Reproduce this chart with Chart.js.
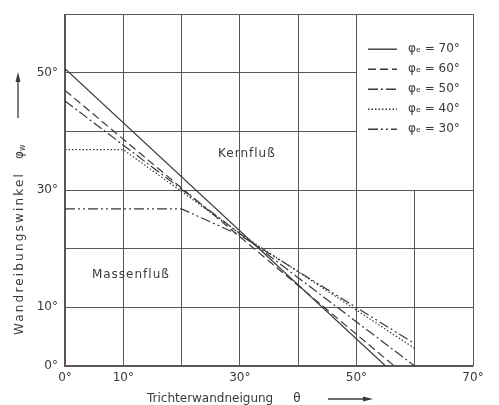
<!DOCTYPE html>
<html>
<head>
<meta charset="utf-8">
<script src="https://cdn.jsdelivr.net/npm/chart.js@4/dist/chart.umd.min.js"></script>
<style>
  html, body { margin: 0; padding: 0; background: #fff; }
  #wrap { width: 499px; height: 405px; }
</style>
</head>
<body>
<div id="wrap"><canvas id="chart"></canvas></div>
<script>
// phi_e values of the five curves
const phiE = [70, 60, 50, 40, 30];
// hopper wall angle theta (x) and wall friction angle phi_w (y) for each curve
const thetaVals = [
    [0, 55],
    [0, 56.5],
    [0, 60],
    [0, 10, 30, 60],
    [0, 20, 30, 60]
];
const phiWVals = [
    [50.7, 0],
    [47, 0],
    [45.2, 0],
    [36.9, 36.9, 22.6, 3],
    [26.8, 26.8, 22.3, 3.8]
];
const dashes = [[], [8, 4], [10, 3, 2, 3], [1.5, 2], [10, 3, 2, 3, 2, 3]];
const xTickLabels = ['0°', '10°', '', '30°', '', '50°', '', '70°'];
const yTickLabels = ['0°', '10°', '', '30°', '', '50°', ''];

const ink = '#3a3a3a';
const gridCol = '#5c5559';
const fontFam = '"DejaVu Sans", sans-serif';

const datasets = phiE.map((p, i) => ({
    label: 'φₑ = ' + p + '°',
    data: thetaVals[i].map((t, j) => ({ x: t, y: phiWVals[i][j] })),
    borderColor: ink,
    borderWidth: 1.2,
    borderDash: dashes[i],
    pointRadius: 0,
    fill: false,
    tension: 0
}));

function arrow(ctx, x1, y1, x2, y2) {
    const a = Math.atan2(y2 - y1, x2 - x1);
    ctx.beginPath();
    ctx.moveTo(x1, y1);
    ctx.lineTo(x2 - 8 * Math.cos(a), y2 - 8 * Math.sin(a));
    ctx.lineWidth = 1.3;
    ctx.stroke();
    ctx.beginPath();
    ctx.moveTo(x2, y2);
    ctx.lineTo(x2 - 10 * Math.cos(a) + 2.5 * Math.sin(a), y2 - 10 * Math.sin(a) - 2.5 * Math.cos(a));
    ctx.lineTo(x2 - 10 * Math.cos(a) - 2.5 * Math.sin(a), y2 - 10 * Math.sin(a) + 2.5 * Math.cos(a));
    ctx.closePath();
    ctx.fill();
}

// pixel a 1px grid line actually covers
const linePx = (v) => Math.round(v - 0.5);

// legend area without grid + legend entries
const legendBox = {
    id: 'legendBox',
    afterDatasetsDraw(chart) {
        const { ctx, scales: { x, y } } = chart;
        const l = linePx(x.getPixelForValue(50)) + 1, r = linePx(x.getPixelForValue(70));
        const t = linePx(y.getPixelForValue(60)) + 1, b = linePx(y.getPixelForValue(30));
        ctx.save();
        ctx.fillStyle = '#fff';
        ctx.fillRect(l, t, r - l, b - t);
        ctx.restore();
    },
    afterDraw(chart) {
        const { ctx, chartArea } = chart;
        ctx.save();
        ctx.font = '12px ' + fontFam;
        ctx.textBaseline = 'middle';
        chart.data.datasets.forEach((ds, i) => {
            const yy = chartArea.top + 35 + i * 20;
            const x0 = chartArea.right - 105;
            ctx.strokeStyle = ink;
            ctx.lineWidth = 1.4;
            ctx.setLineDash(ds.borderDash);
            ctx.beginPath();
            ctx.moveTo(x0, yy);
            ctx.lineTo(x0 + 29, yy);
            ctx.stroke();
            ctx.setLineDash([]);
            ctx.fillStyle = ink;
            ctx.fillText(ds.label, x0 + 40, yy);
        });
        ctx.restore();
    }
};

const regionLabels = {
    id: 'regionLabels',
    afterDatasetsDraw(chart) {
        const { ctx, scales: { x, y } } = chart;
        ctx.save();
        ctx.font = '12px ' + fontFam;
        ctx.fillStyle = ink;
        ctx.textAlign = 'center';
        ctx.textBaseline = 'middle';
        ctx.letterSpacing = '1px';
        ctx.fillText('Kernfluß', x.getPixelForValue(31.2), y.getPixelForValue(36.1));
        ctx.fillText('Massenfluß', x.getPixelForValue(11.3), y.getPixelForValue(15.5));
        ctx.restore();
    }
};

// axis titles with arrows, drawn by hand for the spacing of the original
const axisTitles = {
    id: 'axisTitles',
    afterDraw(chart) {
        const { ctx, chartArea: ca } = chart;
        ctx.save();
        ctx.fillStyle = ink;
        ctx.strokeStyle = ink;
        ctx.textBaseline = 'middle';
        ctx.font = '12px ' + fontFam;

        // x title
        const xy = ca.bottom + 33;
        ctx.textAlign = 'left';
        ctx.fillText('Trichterwandneigung', ca.left + 82, xy);
        ctx.textAlign = 'center';
        ctx.fillText('θ', ca.left + 232, xy);
        arrow(ctx, ca.left + 263, xy, ca.left + 308, xy);

        // y title (rotated)
        ctx.translate(ca.left - 45, ca.bottom - 31);
        ctx.rotate(-Math.PI / 2);
        ctx.textAlign = 'left';
        const txt = 'Wandreibungswinkel';
        const w0 = ctx.measureText(txt).width;
        ctx.letterSpacing = ((163 - w0) / txt.length).toFixed(2) + 'px';
        ctx.fillText(txt, 0, 0);
        ctx.letterSpacing = '0px';
        ctx.fillText('φ', 176, 0);
        ctx.font = '8px ' + fontFam;
        ctx.fillText('w', 184, 3);
        arrow(ctx, 217, -2, 263, -2);
        ctx.restore();
    }
};

new Chart(document.getElementById('chart'), {
    type: 'line',
    data: { datasets },
    plugins: [legendBox, regionLabels, axisTitles],
    options: {
        responsive: true,
        maintainAspectRatio: false,
        animation: false,
        layout: { padding: { left: 0, right: 26, top: 10, bottom: 0 } },
        plugins: { legend: { display: false }, tooltip: { enabled: false } },
        scales: {
            x: {
                type: 'linear',
                min: 0, max: 70,
                afterFit: (s) => { s.height = 39; },
                grid: { color: gridCol, lineWidth: 1, drawTicks: false },
                border: { color: gridCol, width: 1.2 },
                ticks: {
                    stepSize: 10,
                    padding: 5,
                    color: ink,
                    font: { family: fontFam, size: 12 },
                    maxRotation: 0,
                    callback: (v) => xTickLabels[Math.round(v / 10)]
                },
                title: { display: false }
            },
            y: {
                min: 0, max: 60,
                afterFit: (s) => { s.width = 65; },
                grid: { color: gridCol, lineWidth: 1, drawTicks: false },
                border: { color: gridCol, width: 1.2 },
                ticks: {
                    stepSize: 10,
                    padding: 7,
                    color: ink,
                    font: { family: fontFam, size: 12 },
                    callback: (v) => yTickLabels[Math.round(v / 10)]
                },
                title: { display: false }
            }
        }
    }
});
</script>
</body>
</html>
